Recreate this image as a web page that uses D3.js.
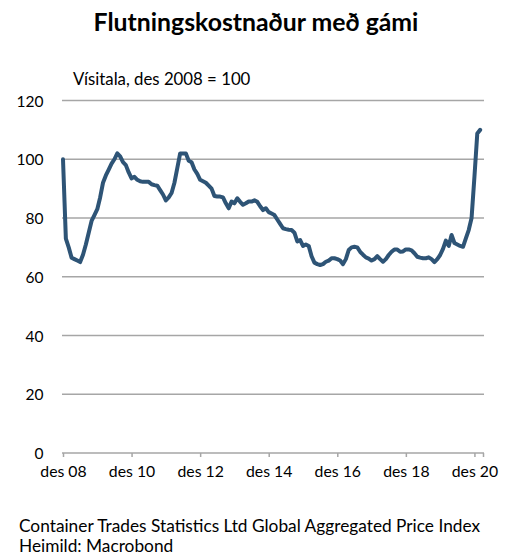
<!DOCTYPE html>
<html><head><meta charset="utf-8">
<script src="https://cdn.jsdelivr.net/npm/d3@7"></script>
<style>body{margin:0;background:#fff}</style>
</head><body>
<svg id="c" width="515" height="557"></svg>
<script>
const title = "Flutningskostnaður með gámi";
const subtitle = "Vísitala, des 2008 = 100";
const footer1 = "Container Trades Statistics Ltd Global Aggregated Price Index";
const footer2 = "Heimild: Macrobond";
const xTickIdx = [0, 24, 48, 72, 96, 120, 144];
const xTickLabels = ["des 08", "des 10", "des 12", "des 14", "des 16", "des 18", "des 20"];
const yTicks = [0, 20, 40, 60, 80, 100, 120];
// monthly index, des 2008 .. feb 2021
const values = [
100,73,70,66.5,66,65.5,65,67.5,71,75,79,81,83,87,92,94.5,96.5,98.5,100,102,
101,99,98,95.5,93.5,94,93,92.5,92.3,92.3,92.3,91.5,91.2,91,89.5,88,86,87,88.5,92,
97,102,102,102,99.5,99,96.5,95,93,92.5,92,91,90,87.5,87.3,87.3,87,85,83.3,85.6,
85,86.7,85.5,84.5,85,85.6,85.6,86,85.5,84,82.7,83.3,82,81.5,81,79.5,78,76.5,76.2,76,
75.9,75,72,72.5,70.5,71,70.5,67,64.8,64.3,64,64.3,65.1,65.5,66.3,66.3,66,65.5,64.3,66,
69.1,70,70.2,70,68.5,67.5,66.6,66.2,65.5,66,67,66,65.1,66,67.4,68.5,69.3,69.3,68.5,68.6,
69.3,69.3,69,68,66.8,66.5,66.3,66.3,66.6,66,65,66,67.4,69.5,72.3,70.5,74.2,71.5,71,70.5,
70.2,73.1,75.9,80,94,108.8,110
];

const svg = d3.select("#c");
const x = d3.scaleLinear().domain([0, 147]).range([63, 483]);
const y = d3.scaleLinear().domain([0, 120]).range([453, 100.5]);
const font = "Lato, 'Open Sans', sans-serif";

svg.append("text").attr("x", 256).attr("y", 31).attr("text-anchor", "middle")
  .attr("font-family", font).attr("font-weight", "bold").attr("font-size", 24.8)
  .attr("fill", "#000").text(title);
svg.append("text").attr("x", 73).attr("y", 85)
  .attr("font-family", font).attr("font-size", 16.8).attr("fill", "#000").text(subtitle);

// gridlines
svg.append("g").selectAll("line").data(yTicks.filter(d => d > 0)).join("line")
  .attr("x1", 62).attr("x2", 484)
  .attr("y1", d => y(d)).attr("y2", d => y(d))
  .attr("stroke", "#a6a6a6").attr("stroke-width", 1.5);

// y labels
svg.append("g").selectAll("text").data(yTicks).join("text")
  .attr("x", 43.5).attr("y", d => y(d) + 6).attr("text-anchor", "end")
  .attr("font-family", font).attr("font-size", 15.5).attr("fill", "#000")
  .text(d => d);

// x axis
const xAxis = d3.axisBottom(x).tickValues(xTickIdx)
  .tickFormat((d, i) => xTickLabels[i]).tickSizeOuter(0).tickSize(4).tickPadding(9);
const gx = svg.append("g").attr("transform", `translate(0,${y(0)})`).call(xAxis);
gx.select(".domain").attr("stroke", "#a6a6a6").attr("stroke-width", 1.5).attr("d", "M62,0H484");
gx.selectAll(".tick line").attr("stroke", "#a6a6a6").attr("stroke-width", 1.5);
gx.append("line").attr("x1", 483.5).attr("x2", 483.5).attr("y1", 0).attr("y2", 4)
  .attr("stroke", "#a6a6a6").attr("stroke-width", 1.5);
gx.selectAll(".tick text").attr("font-family", font).attr("font-size", 15.8).attr("fill", "#000");

// line
const line = d3.line().x((d, i) => x(i)).y(d => y(d)).curve(d3.curveLinear);
svg.append("path").datum(values).attr("d", line)
  .attr("fill", "none").attr("stroke", "#2e5476").attr("stroke-width", 4)
  .attr("stroke-linejoin", "round").attr("stroke-linecap", "round");

svg.append("text").attr("x", 19).attr("y", 532)
  .attr("font-family", font).attr("font-size", 17.3).attr("fill", "#000").text(footer1);
svg.append("text").attr("x", 19).attr("y", 552)
  .attr("font-family", font).attr("font-size", 17.3).attr("fill", "#000").text(footer2);
</script>
</body></html>
